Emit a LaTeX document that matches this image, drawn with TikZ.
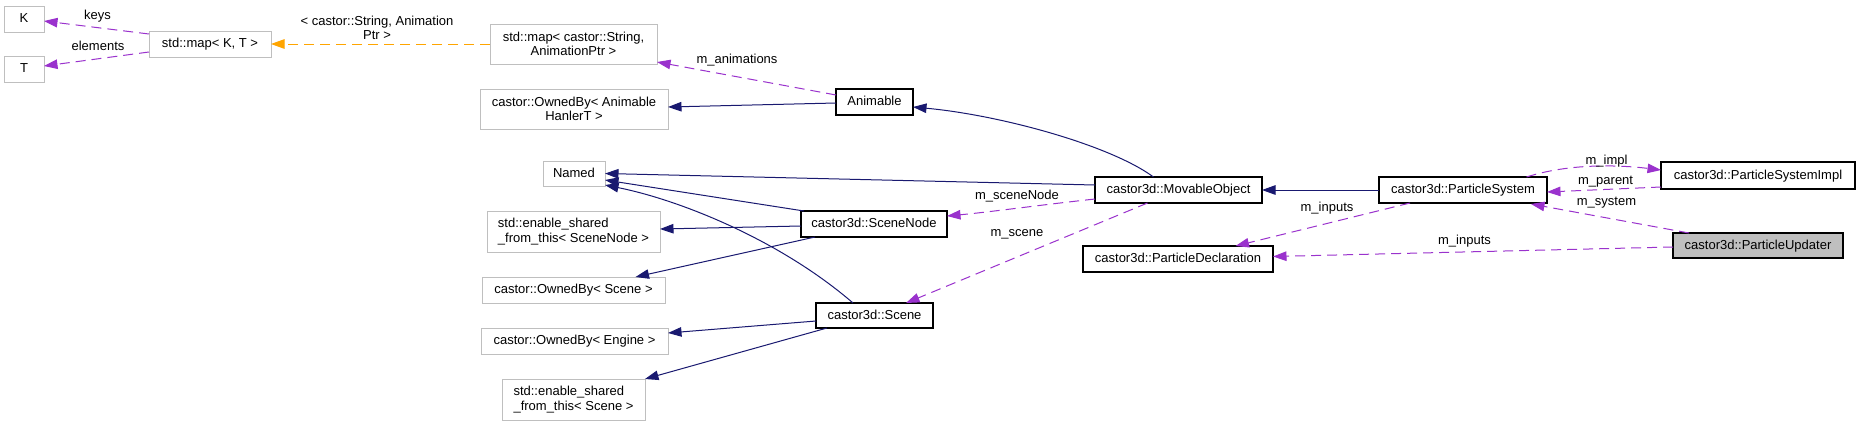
\documentclass[tikz,border=0pt]{standalone}
\usepackage{fontspec}
\setmainfont{Liberation Sans}
\usetikzlibrary{arrows.meta,calc}
\definecolor{navy}{HTML}{191970}
\definecolor{usep}{HTML}{9A32CD}
\definecolor{tmplo}{HTML}{FFA500}
\definecolor{greyb}{HTML}{BFBFBF}
\begin{document}
\begin{tikzpicture}[x=1pt,y=-1pt,
  every node/.style={font=\fontsize{13}{14.5}\selectfont, inner sep=0pt, outer sep=0pt},
  one/.style={text height=10pt, text depth=3pt},
  ext/.style={draw=greyb, line width=1pt, fill=white},
  cls/.style={draw=black, line width=1.1pt, fill=white},
  hl/.style={draw=black, line width=1.1pt, fill=greyb},
  tip/.style={-{Triangle[length=13.5pt,width=9.5pt]}},
  inh/.style={draw=navy, line width=1pt, tip},
  use/.style={draw=usep, line width=1pt, dash pattern=on 10pt off 6pt, tip},
  tmpl/.style={draw=tmplo, line width=1pt, dash pattern=on 10pt off 6pt, tip},
  lbl/.style={one}]
\useasboundingbox (0,0) rectangle (1860,426);
\fill[white] (0,0) rectangle (1860,426);

% nodes
\node[ext,one,minimum width=40pt,minimum height=26pt] (K) at (24,19) {K};
\node[ext,one,minimum width=40pt,minimum height=26pt] (T) at (24,69) {T};
\node[ext,one,minimum width=122pt,minimum height=26pt] (mapKT) at (210,44) {std::map< K, T >};
\node[ext,align=center,minimum width=167pt,minimum height=40pt] (mapCS) at (573.5,44) {std::map< castor::String,\\AnimationPtr >};
\node[ext,align=center,minimum width=188pt,minimum height=40pt] (ownAnim) at (574,109) {castor::OwnedBy< Animable\\HanlerT >};
\node[cls,one,minimum width=77pt,minimum height=26pt] (Animable) at (874.5,102) {Animable};
\node[ext,one,minimum width=62pt,minimum height=25pt] (Named) at (574,173.5) {Named};
\node[ext,align=left,minimum width=173pt,minimum height=41pt] (esfSN) at (573.5,231.5) {std::enable\_shared\\\_from\_this< SceneNode >};
\node[cls,one,minimum width=146pt,minimum height=26pt] (SceneNode) at (874,224) {castor3d::SceneNode};
\node[ext,one,minimum width=183pt,minimum height=26pt] (ownScene) at (573.5,290) {castor::OwnedBy< Scene >};
\node[cls,one,minimum width=117pt,minimum height=25pt] (Scene) at (874.5,315.5) {castor3d::Scene};
\node[ext,one,minimum width=187pt,minimum height=26pt] (ownEngine) at (574.5,341) {castor::OwnedBy< Engine >};
\node[ext,align=left,minimum width=143pt,minimum height=41pt] (esfScene) at (573.5,399.5) {std::enable\_shared\\\_from\_this< Scene >};
\node[cls,one,minimum width=167pt,minimum height=26pt] (MO) at (1178.5,190) {castor3d::MovableObject};
\node[cls,one,minimum width=168pt,minimum height=26pt] (PS) at (1463,190) {castor3d::ParticleSystem};
\node[cls,one,minimum width=194pt,minimum height=27pt] (PSImpl) at (1758,175.5) {castor3d::ParticleSystemImpl};
\node[cls,one,minimum width=190pt,minimum height=26pt] (PDecl) at (1178,259) {castor3d::ParticleDeclaration};
\node[hl,one,minimum width=170pt,minimum height=25pt] (PUpd) at (1758,245.5) {castor3d::ParticleUpdater};

% edges
\draw[use] ($(mapKT.west)+(0,-10)$) -- ($(K.east)+(0,2)$);
\draw[use] ($(mapKT.west)+(0,8)$) -- ($(T.east)+(0,-3)$);
\draw[tmpl] (mapCS.west) -- (mapKT.east);
\draw[use] ($(Animable.west)+(0,-7)$) -- ($(mapCS.south east)+(0,-2)$);
\draw[inh] ($(Animable.west)+(0,1)$) -- ($(ownAnim.east)+(0,-2)$);
\draw[inh] ($(MO.north)+(-25,0)$) .. controls (1110,145) and (1000,115) .. ($(Animable.east)+(0,5)$);
\draw[inh] ($(MO.west)+(0,-5)$) -- (Named.east);
\draw[inh] ($(SceneNode.north west)+(3,0)$) -- ($(Named.east)+(0,6.5)$);
\draw[inh] ($(Scene.north)+(-21.5,0)$) .. controls (780,240) and (680,200) .. ($(Named.east)+(0,11.5)$);
\draw[inh] ($(SceneNode.west)+(0,2)$) -- ($(esfSN.east)+(0,-2.5)$);
\draw[inh] ($(SceneNode.south west)+(14,0)$) -- ($(ownScene.north)+(62,0)$);
\draw[use] ($(MO.west)+(0,9)$) .. controls (1040,205) and (990,212) .. ($(SceneNode.east)+(0,-8)$);
\draw[use] ($(MO.south)+(-31,0)$) -- ($(Scene.north)+(31.5,0)$);
\draw[inh] ($(Scene.west)+(0,5.5)$) -- ($(ownEngine.east)+(0,-8)$);
\draw[inh] ($(Scene.south west)+(11,0)$) -- (esfScene.north east);
\draw[inh] (PS.west) -- (MO.east);
\draw[use] ($(PS.north)+(63.5,0)$) .. controls (1570,163) and (1620,165) .. ($(PSImpl.west)+(0,-5.5)$);
\draw[use] ($(PSImpl.west)+(0,11.5)$) -- ($(PS.east)+(0,2)$);
\draw[use] ($(PUpd.north west)+(16,0)$) -- ($(PS.south east)+(-16,1)$);
\draw[use] ($(PS.south)+(-53,0)$) -- ($(PDecl.north)+(57.5,0)$);
\draw[use] ($(PUpd.west)+(0,1.5)$) -- ($(PDecl.east)+(0,-2.5)$);

% labels
\node[lbl] (lkeys) at (97.5,16) {keys};
\node[lbl] (lelem) at (98,47) {elements};
\node[align=center] (ltmpl) at (377,28) {< castor::String, Animation\\Ptr >};
\node[lbl] (lanim) at (737,60) {m\_animations};
\node[lbl] (lsn) at (1017,196) {m\_sceneNode};
\node[lbl] (lsc) at (1017,233) {m\_scene};
\node[lbl] (lin1) at (1327,208) {m\_inputs};
\node[lbl] (lin2) at (1464.5,241) {m\_inputs};
\node[lbl] (limpl) at (1606.5,161) {m\_impl};
\node[lbl] (lpar) at (1605.6,181) {m\_parent};
\node[lbl] (lsys) at (1606.5,202) {m\_system};
\end{tikzpicture}
\end{document}
